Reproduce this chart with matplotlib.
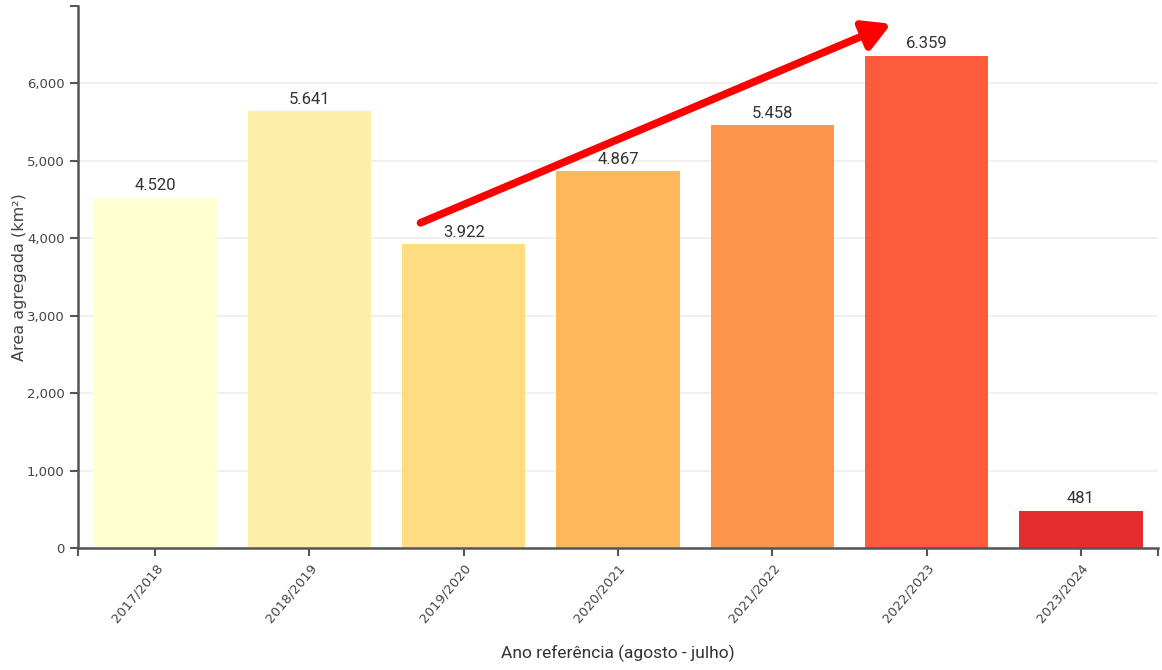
import matplotlib.pyplot as plt
from matplotlib.ticker import FuncFormatter

anos = ["2017/2018", "2018/2019", "2019/2020", "2020/2021",
        "2021/2022", "2022/2023", "2023/2024"]
area_km2 = [4520, 5641, 3922, 4867, 5458, 6359, 481]
cores = ["#ffffcc", "#ffeda0", "#fed976", "#feb24c", "#fd8d3c", "#fc4e2a", "#e31a1c"]

narrow = ["Liberation Sans Narrow", "Roboto", "DejaVu Sans"]
axis_col = "#555555"

fig = plt.figure(figsize=(11.62, 6.70), dpi=100)
ax = fig.add_axes([0.0671, 0.182, 0.9295, 0.809])

x = range(len(anos))
bars = ax.bar(x, area_km2, width=0.8, color=cores, alpha=0.92, zorder=2)

for b, v in zip(bars, area_km2):
    txt = f"{v:,}".replace(",", ".")
    ax.text(b.get_x() + b.get_width() / 2, v + 60, txt, ha="center", va="bottom",
            fontsize=12, family=narrow, color="#333333")

ax.set_xlim(-0.5, len(anos) - 0.5)
ax.set_ylim(0, 7000)
ax.set_yticks(range(0, 7000, 1000))
ax.yaxis.set_major_formatter(FuncFormatter(lambda v, p: f"{int(v):,}"))
ax.set_xticks(list(x))
ax.set_xticklabels(anos, rotation=50, ha="right", rotation_mode="anchor",
                   fontsize=9.5, color="#444444")
for lab in ax.get_yticklabels():
    lab.set_fontsize(9.5)
    lab.set_color("#444444")

# marcas nas extremidades dos eixos (estilo d3)
ax.set_xticks([-0.5, len(anos) - 0.5], minor=True)
ax.set_yticks([7000], minor=True)
ax.tick_params(which="minor", length=6, width=1.5, colors=axis_col)

ax.grid(axis="y", color="#eeeeee", linewidth=1.2, zorder=0)
ax.set_axisbelow(True)
for s in ["top", "right"]:
    ax.spines[s].set_visible(False)
for s in ["left", "bottom"]:
    ax.spines[s].set_color(axis_col)
    ax.spines[s].set_linewidth(1.8)
ax.tick_params(which="major", colors=axis_col, width=1.5, length=6)
ax.tick_params(axis="both", which="major", labelcolor="#444444")

ax.set_xlabel("Ano referência (agosto - julho)", fontsize=12.5, family=narrow,
              color="#333333", labelpad=14)
ax.set_ylabel("Area agregada (km²)", fontsize=11.5, color="#444444")
ax.yaxis.set_label_coords(-0.047, 0.5)

# seta de tendência
ax.annotate("", xy=(4.77, 6770), xytext=(1.72, 4200),
            arrowprops=dict(arrowstyle="-|>,head_length=1.6,head_width=0.9",
                            color="#ff0000", lw=5.5, shrinkA=0, shrinkB=0),
            zorder=5)

fig.savefig("out.png", dpi=100)
